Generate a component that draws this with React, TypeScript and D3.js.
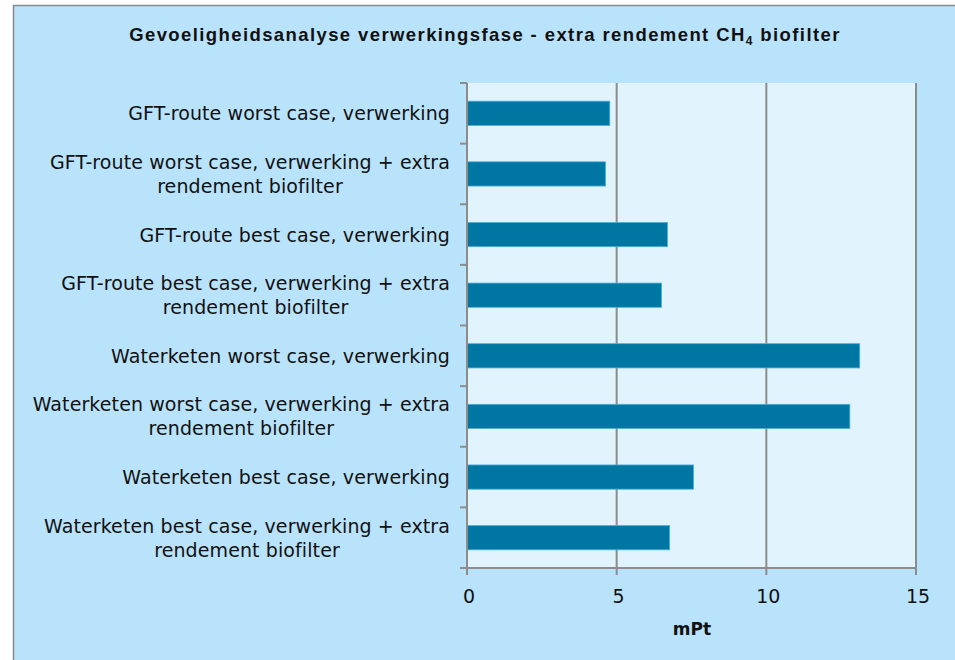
import React, { useEffect, useRef } from "react";
import * as d3 from "d3";

const W = 955;
const H = 660;

// categories (top to bottom), split into label lines
const categories = [
  ["GFT-route worst case, verwerking"],
  ["GFT-route worst case, verwerking + extra", "rendement biofilter"],
  ["GFT-route best case, verwerking"],
  ["GFT-route best case, verwerking + extra", "rendement biofilter"],
  ["Waterketen worst case, verwerking"],
  ["Waterketen worst case, verwerking + extra", "rendement biofilter"],
  ["Waterketen best case, verwerking"],
  ["Waterketen best case, verwerking + extra", "rendement biofilter"],
];
const values = [4.77, 4.63, 6.7, 6.5, 13.12, 12.79, 7.57, 6.77];
const xTicks = [0, 5, 10, 15];

const margin = { left: 467, right: 39, top: 83, bottom: 92 };

export default function App() {
  const ref = useRef<SVGSVGElement>(null);

  useEffect(() => {
    const svg = d3.select(ref.current);
    svg.selectAll("*").remove();

    const x = d3
      .scaleLinear()
      .domain([0, 15])
      .range([margin.left, W - margin.right]);
    const y = d3
      .scaleBand<number>()
      .domain(d3.range(categories.length))
      .range([margin.top, H - margin.bottom])
      .paddingInner(0.6)
      .paddingOuter(0.3);

    const top = margin.top;
    const bottom = H - margin.bottom;
    const step = y.step();

    // chart background + border
    svg.append("rect").attr("width", W).attr("height", H).attr("fill", "#ffffff");
    svg
      .append("rect")
      .attr("x", 13.5)
      .attr("y", 5.5)
      .attr("width", W)
      .attr("height", H)
      .attr("fill", "#b9e3fb")
      .attr("stroke", "#8a8a8a")
      .attr("stroke-width", 1.5);

    // plot area
    svg
      .append("rect")
      .attr("x", x(0))
      .attr("y", top)
      .attr("width", x(15) - x(0))
      .attr("height", bottom - top)
      .attr("fill", "#e1f3fd");

    // title
    const title = svg
      .append("text")
      .attr("x", 485)
      .attr("y", 41)
      .attr("text-anchor", "middle")
      .attr("font-family", "Liberation Sans, Arial, sans-serif")
      .attr("font-weight", "bold")
      .attr("font-size", 18.5)
      .attr("letter-spacing", 1.4)
      .attr("fill", "#111");
    title.append("tspan").text("Gevoeligheidsanalyse verwerkingsfase - extra rendement CH");
    title.append("tspan").attr("font-size", 12).attr("dy", 4).text("4");
    title.append("tspan").attr("dy", -4).text(" biofilter");

    // vertical gridlines
    svg
      .append("g")
      .selectAll("line")
      .data(xTicks.slice(1))
      .join("line")
      .attr("x1", (d) => x(d))
      .attr("x2", (d) => x(d))
      .attr("y1", top)
      .attr("y2", bottom)
      .attr("stroke", "#8c8c8c")
      .attr("stroke-width", 2);

    // bars
    svg
      .append("g")
      .selectAll("rect")
      .data(values)
      .join("rect")
      .attr("x", x(0))
      .attr("y", (_, i) => y(i)!)
      .attr("width", (d) => x(d) - x(0))
      .attr("height", y.bandwidth())
      .attr("fill", "#0077a3")
      .attr("stroke", "#4fb0d8")
      .attr("stroke-width", 0.8);

    // axes
    const axisColor = "#8c8c8c";
    svg
      .append("line")
      .attr("x1", x(0))
      .attr("x2", x(0))
      .attr("y1", top)
      .attr("y2", bottom)
      .attr("stroke", axisColor)
      .attr("stroke-width", 2);
    svg
      .append("line")
      .attr("x1", x(0) - 7)
      .attr("x2", x(15))
      .attr("y1", bottom)
      .attr("y2", bottom)
      .attr("stroke", axisColor)
      .attr("stroke-width", 2);

    // category ticks at band boundaries
    svg
      .append("g")
      .selectAll("line")
      .data(d3.range(categories.length + 1))
      .join("line")
      .attr("x1", x(0) - 7)
      .attr("x2", x(0))
      .attr("y1", (i) => top + i * step)
      .attr("y2", (i) => top + i * step)
      .attr("stroke", axisColor)
      .attr("stroke-width", 2);

    // x ticks + labels
    svg
      .append("g")
      .selectAll("line")
      .data(xTicks)
      .join("line")
      .attr("x1", (d) => x(d))
      .attr("x2", (d) => x(d))
      .attr("y1", bottom)
      .attr("y2", bottom + 7)
      .attr("stroke", axisColor)
      .attr("stroke-width", 2);
    svg
      .append("g")
      .selectAll("text")
      .data(xTicks)
      .join("text")
      .attr("x", (d) => x(d) + 2)
      .attr("y", bottom + 35)
      .attr("text-anchor", "middle")
      .attr("font-family", "DejaVu Sans, sans-serif")
      .attr("font-size", 19)
      .attr("fill", "#111")
      .text((d) => String(d));

    svg
      .append("text")
      .attr("x", 692)
      .attr("y", bottom + 67)
      .attr("text-anchor", "middle")
      .attr("font-family", "DejaVu Sans, sans-serif")
      .attr("font-weight", "bold")
      .attr("font-size", 17)
      .attr("fill", "#111")
      .text("mPt");

    // category labels: block right-aligned, lines centered
    const labelRight = 450;
    const lineH = 24;
    categories.forEach((lines, i) => {
      const cy = y(i)! + y.bandwidth() / 2;
      const g = svg.append("g");
      const texts = lines.map((ln, j) =>
        g
          .append("text")
          .attr("y", cy + 7 + (j - (lines.length - 1) / 2) * lineH)
          .attr("font-family", "DejaVu Sans, sans-serif")
          .attr("font-size", 19)
          .attr("letter-spacing", 0.1)
          .attr("fill", "#111")
          .attr("text-anchor", "middle")
          .text(ln)
      );
      const widths = texts.map((t) => (t.node() as SVGTextElement).getComputedTextLength());
      const maxW = d3.max(widths)!;
      const cx = labelRight - maxW / 2;
      texts.forEach((t) => t.attr("x", cx));
    });
  }, []);

  return (
    <svg
      ref={ref}
      width={W}
      height={H}
      style={{ position: "absolute", left: 0, top: 0, display: "block" }}
    />
  );
}
